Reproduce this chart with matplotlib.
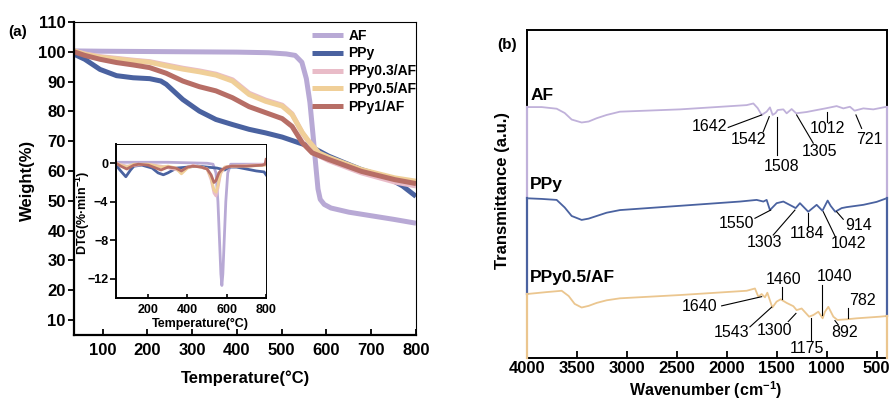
import matplotlib
matplotlib.use("Agg")
import matplotlib.pyplot as plt

plt.rcParams['font.family'] = ['Liberation Sans', 'DejaVu Sans']
plt.rcParams['mathtext.default'] = 'regular'

# ---------------- TGA data (a) ----------------
series_names = ['AF', 'PPy', 'PPy0.3/AF', 'PPy0.5/AF', 'PPy1/AF']
series_colors = ['#b8a9d5', '#4a62a0', '#e9bcc8', '#f0cf98', '#b76e66']

T_af = [36, 100, 200, 300, 400, 470, 510, 530, 545, 555, 563, 570, 576, 581, 586, 595, 610, 650, 700, 750, 800]
W_af = [100.3, 100.2, 100.1, 100.0, 99.9, 99.7, 99.3, 98.8, 96.5, 91.0, 83.0, 72.0, 62.0, 54.0, 50.5, 48.8, 47.6, 46.2, 45.0, 43.8, 42.5]

T_ppy = [36, 60, 94, 131, 168, 205, 230, 242, 279, 316, 353, 390, 427, 464, 501, 538, 560, 580, 605, 640, 678, 738, 770, 800]
W_ppy = [99.2, 97.5, 94.1, 92.0, 91.3, 91.0, 90.2, 89.1, 84.0, 80.1, 77.3, 75.6, 74.0, 72.8, 71.4, 69.5, 68.4, 67.0, 65.0, 62.8, 60.5, 57.7, 55.0, 51.5]

T_p03 = [36, 60, 94, 168, 205, 242, 279, 316, 353, 390, 427, 464, 501, 523, 546, 560, 583, 605, 678, 753, 800]
W_p03 = [100.3, 99.3, 98.4, 97.2, 96.7, 95.6, 94.5, 93.6, 92.5, 90.6, 86.1, 83.8, 82.1, 79.2, 72.8, 69.8, 65.2, 63.5, 59.4, 56.3, 55.0]

T_p05 = [36, 60, 94, 168, 205, 242, 279, 316, 353, 390, 427, 464, 501, 523, 546, 560, 583, 605, 678, 753, 800]
W_p05 = [100.3, 99.2, 98.2, 97.0, 96.5, 95.3, 94.2, 93.3, 92.2, 90.2, 85.7, 83.4, 81.8, 79.0, 72.9, 70.1, 66.1, 64.6, 60.5, 57.7, 56.6]

T_p1 = [36, 60, 94, 131, 168, 205, 242, 279, 316, 353, 390, 427, 464, 501, 523, 546, 568, 605, 678, 753, 800]
W_p1 = [100.0, 98.8, 97.5, 96.4, 95.6, 94.7, 92.8, 90.2, 88.3, 86.9, 84.6, 81.6, 79.6, 77.6, 75.0, 69.5, 66.1, 63.9, 59.9, 57.1, 55.8]

# DTG (inset)
Td_af = [36, 100, 200, 300, 400, 500, 530, 545, 555, 563, 570, 575, 580, 587, 595, 605, 620, 700, 800]
D_af = [0.1, 0.1, 0.1, 0.1, 0.05, 0.0, -0.1, -1.0, -4.0, -8.0, -11.5, -12.7, -11.5, -8.0, -4.0, -1.0, -0.1, -0.1, -0.1]

Td_ppy = [36, 60, 86, 110, 127, 168, 220, 250, 277, 300, 345, 400, 450, 500, 550, 590, 610, 650, 700, 750, 790, 800]
D_ppy = [-0.2, -0.8, -1.4, -0.7, -0.3, -0.2, -0.5, -1.0, -1.2, -1.0, -0.5, -0.4, -0.3, -0.4, -0.5, -0.7, -0.4, -0.4, -0.6, -0.8, -0.9, -1.2]

Td_p03 = [36, 91, 200, 265, 369, 428, 500, 520, 535, 545, 555, 568, 590, 700, 800]
D_p03 = [0.0, -0.3, -0.1, -0.3, -0.8, -0.2, -0.6, -1.7, -3.1, -3.4, -2.6, -1.1, -0.4, -0.2, -0.1]

Td_p05 = [36, 60, 91, 127, 200, 265, 301, 340, 369, 400, 428, 470, 500, 520, 535, 545, 555, 568, 590, 625, 700, 800]
D_p05 = [0.0, -0.2, -0.4, -0.1, -0.1, -0.4, -0.3, -0.5, -1.1, -0.5, -0.3, -0.4, -0.6, -1.5, -2.8, -3.0, -2.3, -1.0, -0.4, -0.3, -0.3, -0.2]

Td_p1 = [36, 60, 91, 127, 150, 200, 265, 301, 340, 369, 400, 428, 470, 500, 520, 535, 545, 560, 573, 600, 625, 700, 780, 795, 800]
D_p1 = [0.0, -0.3, -0.6, -0.2, -0.1, -0.2, -0.7, -0.4, -0.5, -0.8, -0.4, -0.3, -0.4, -0.6, -1.2, -2.0, -1.8, -1.0, -0.7, -0.4, -0.3, -0.3, -0.2, -0.1, 0.4]

# ---------------- FTIR data (b) ----------------
ftir_names = ['AF', 'PPy', 'PPy0.5/AF']
ftir_colors = ['#c0b1da', '#4a62a0', '#ebc68f']
ftir_offsets = [76.5, 48.7, 19.5]

wn_af = [4000, 3850, 3700, 3620, 3550, 3450, 3380, 3300, 3200, 3067, 2467, 1800, 1733, 1690, 1650, 1600, 1567, 1540, 1510, 1490, 1433, 1400, 1350, 1305, 1200, 1133, 1012, 900, 833, 767, 721, 633, 533, 400]
tr_af = [0, 0, -0.5, -1.8, -3.8, -4.7, -4.4, -3.4, -2.4, -1.4, -0.7, 0.6, 1.1, -0.3, -2.4, -1.4, -0.1, -2.4, -1.8, -0.9, -0.7, -1.9, -0.6, -1.9, -1.5, -1.1, -0.4, 0.3, -0.4, 0.1, -1.1, -0.4, -0.7, 0.1]

wn_ppy = [4000, 3850, 3700, 3620, 3550, 3450, 3380, 3300, 3200, 3067, 2467, 1867, 1700, 1633, 1600, 1567, 1500, 1433, 1333, 1310, 1267, 1184, 1100, 1042, 990, 960, 914, 850, 800, 633, 500, 400]
tr_ppy = [0, -0.2, -0.5, -2.8, -5.4, -6.6, -6.2, -5.4, -4.4, -3.6, -2.3, -1.0, -0.5, -1.0, -0.5, -3.6, -1.5, -1.0, -2.6, -3.0, -1.5, -4.1, -2.0, -3.8, -0.7, -2.3, -4.1, -3.0, -2.7, -2.0, -1.1, 0]

wn_p05 = [4000, 3800, 3650, 3580, 3520, 3450, 3380, 3300, 3200, 3067, 2467, 1800, 1717, 1683, 1650, 1617, 1593, 1543, 1500, 1460, 1400, 1333, 1300, 1250, 1175, 1133, 1083, 1040, 1017, 983, 933, 892, 800, 700, 467, 400]
tr_p05 = [0, 0.6, 1.0, -0.6, -3.0, -4.1, -3.6, -2.7, -1.9, -1.3, -0.3, 1.0, 1.7, -0.8, 0, -1.0, 0.4, -4.1, -2.3, -1.6, -2.7, -3.7, -4.9, -4.4, -6.9, -6.4, -5.4, -7.4, -5.4, -3.9, -6.9, -7.9, -7.7, -7.4, -6.9, -6.7]

# peak labels: (label, text x, text y, line start, line end)
peaks_af = [('1642', 2167, 70.5, (1984, 70.3), (1650, 74.1)),
            ('1542', 1784, 66.5, (1634, 69.0), (1574, 73.6)),
            ('1508', 1450, 58.3, (1494, 61.9), (1494, 73.6)),
            ('1305', 1067, 62.9, (1300, 74.1), (1134, 65.5)),
            ('1012', 990, 70.0, (1000, 75.1), (1000, 72.0)),
            ('721', 574, 66.5, (707, 74.1), (650, 70.0))]
peaks_ppy = [('1550', 1900, 41.1, (1717, 42.6), (1560, 45.1)),
             ('1303', 1617, 35.2, (1534, 37.5), (1317, 45.1)),
             ('1184', 1200, 38.0, (1184, 44.1), (1184, 40.0)),
             ('1042', 784, 34.8, (1034, 44.6), (917, 37.2)),
             ('914', 684, 40.5, (900, 44.6), (834, 42.3))]
peaks_p05 = [('1640', 2267, 15.6, (2050, 15.9), (1650, 18.7)),
             ('1543', 1950, 7.7, (1767, 9.5), (1550, 15.5)),
             ('1460', 1434, 24.0, (1450, 21.6), (1450, 17.9)),
             ('1300', 1517, 8.5, (1384, 11.1), (1307, 13.6)),
             ('1175', 1200, 3.0, (1160, 5.5), (1160, 12.1)),
             ('1040', 917, 24.8, (1050, 22.3), (1050, 13.1)),
             ('892', 817, 7.7, (917, 11.4), (884, 10.1)),
             ('782', 640, 17.4, (784, 15.2), (784, 12.1))]

fig = plt.figure(figsize=(8.91, 4.01), dpi=100)

# ---------------- panel (a) ----------------
ax = fig.add_axes([0.0831, 0.1646, 0.3838, 0.7805])
tga = [(T_af, W_af), (T_ppy, W_ppy), (T_p03, W_p03), (T_p05, W_p05), (T_p1, W_p1)]
for (t, w), name, c in zip(tga, series_names, series_colors):
    ax.plot(t, w, color=c, lw=3.6, label=name, solid_capstyle='butt')
ax.set_xlim(36, 800)
ax.set_ylim(5, 110)
ax.set_xticks([100, 200, 300, 400, 500, 600, 700, 800])
ax.set_yticks(range(10, 111, 10))
ax.tick_params(axis='x', direction='in', length=4, width=1.3, pad=6, labelsize=12)
ax.tick_params(axis='y', direction='out', length=4, width=1.3, pad=2, labelsize=12)
for lab in ax.get_xticklabels() + ax.get_yticklabels():
    lab.set_fontweight('bold')
ax.spines['left'].set_linewidth(1.6)
ax.spines['bottom'].set_linewidth(1.6)
ax.spines['top'].set_linewidth(0.8)
ax.spines['right'].set_linewidth(0.8)
leg = ax.legend(loc='upper right', bbox_to_anchor=(1.03, 1.01), frameon=False,
                prop={'weight': 'bold', 'size': 10}, handlelength=2.2,
                handletextpad=0.4, labelspacing=0.28, borderaxespad=0.3)
fig.text(0.275, 0.057, 'Temperature(°C)', ha='center', va='center', fontsize=12, fontweight='bold')
fig.text(0.031, 0.55, 'Weight(%)', ha='center', va='center', rotation=90, fontsize=12, fontweight='bold')
fig.text(0.009, 0.92, '(a)', ha='left', va='center', fontsize=11, fontweight='bold')

# inset DTG
ins = fig.add_axes([0.1302, 0.2569, 0.1684, 0.384])
dtg = [(Td_af, D_af), (Td_ppy, D_ppy), (Td_p03, D_p03), (Td_p05, D_p05), (Td_p1, D_p1)]
for (t, d), c in zip(dtg, series_colors):
    ins.plot(t, d, color=c, lw=2.0)
ins.set_xlim(36, 800)
ins.set_ylim(-14, 2)
ins.set_xticks([200, 400, 600, 800])
ins.set_yticks([0, -4, -8, -12])
ins.tick_params(axis='x', direction='in', length=3, width=1.2, pad=4, labelsize=9)
ins.tick_params(axis='y', direction='out', length=4, width=1.2, pad=1.5, labelsize=9)
for lab in ins.get_xticklabels() + ins.get_yticklabels():
    lab.set_fontweight('bold')
ins.spines['left'].set_linewidth(1.4)
ins.spines['bottom'].set_linewidth(1.4)
ins.spines['top'].set_linewidth(0.7)
ins.spines['right'].set_linewidth(0.7)
fig.text(0.2245, 0.192, 'Temperature(°C)', ha='center', va='center', fontsize=9, fontweight='bold')
fig.text(0.0925, 0.468, 'DTG(%·min$^{-1}$)', ha='center', va='center', rotation=90, fontsize=9, fontweight='bold')

# ---------------- panel (b) ----------------
bx = fig.add_axes([0.5911, 0.1072, 0.404, 0.818])
spectra = [(wn_af, tr_af, peaks_af), (wn_ppy, tr_ppy, peaks_ppy), (wn_p05, tr_p05, peaks_p05)]
for (wn, tr, peaks), off, c in zip(spectra, ftir_offsets, ftir_colors):
    bx.plot(wn, [v + off for v in tr], color=c, lw=1.3)
    for lab, tx, ty, p0, p1 in peaks:
        bx.plot([p0[0], p1[0]], [p0[1], p1[1]], color='black', lw=0.8)
        bx.text(tx, ty, lab, ha='center', va='center', fontsize=11.5)
bx.set_xlim(4000, 400)
bx.set_ylim(0, 100)
bx.set_yticks([])
bx.set_xticks([4000, 3500, 3000, 2500, 2000, 1500, 1000, 500])
bx.tick_params(axis='x', direction='in', length=5, width=1.3, pad=2.5, labelsize=12)
for lab in bx.get_xticklabels():
    lab.set_fontweight('bold')
for s in bx.spines.values():
    s.set_linewidth(1.4)

# coloured edge segments joining the stacked spectra
ends_left = [off + tr[0] for (wn, tr, pk), off in zip(spectra, ftir_offsets)] + [0]
ends_right = [off + tr[-1] for (wn, tr, pk), off in zip(spectra, ftir_offsets)] + [0]
for i, c in enumerate(ftir_colors):
    bx.plot([4000, 4000], [ends_left[i], ends_left[i + 1]], color=c, lw=1.6, clip_on=False, zorder=5)
    bx.plot([400, 400], [ends_right[i], ends_right[i + 1]], color=c, lw=1.6, clip_on=False, zorder=5)

label_y = [0.787, 0.515, 0.232]
for name, yy in zip(ftir_names, label_y):
    bx.text(0.01, yy, name, transform=bx.transAxes, ha='left', va='baseline',
            fontsize=12.5, fontweight='bold')

fig.text(0.792, 0.001, 'Wavenumber (cm$^{-1}$)', ha='center', va='bottom', fontsize=11.5, fontweight='bold')
fig.text(0.5635, 0.525, 'Transmittance (a.u.)', ha='center', va='center', rotation=90, fontsize=12, fontweight='bold')
fig.text(0.558, 0.888, '(b)', ha='left', va='center', fontsize=11, fontweight='bold')

fig.savefig('out.png', dpi=100)
